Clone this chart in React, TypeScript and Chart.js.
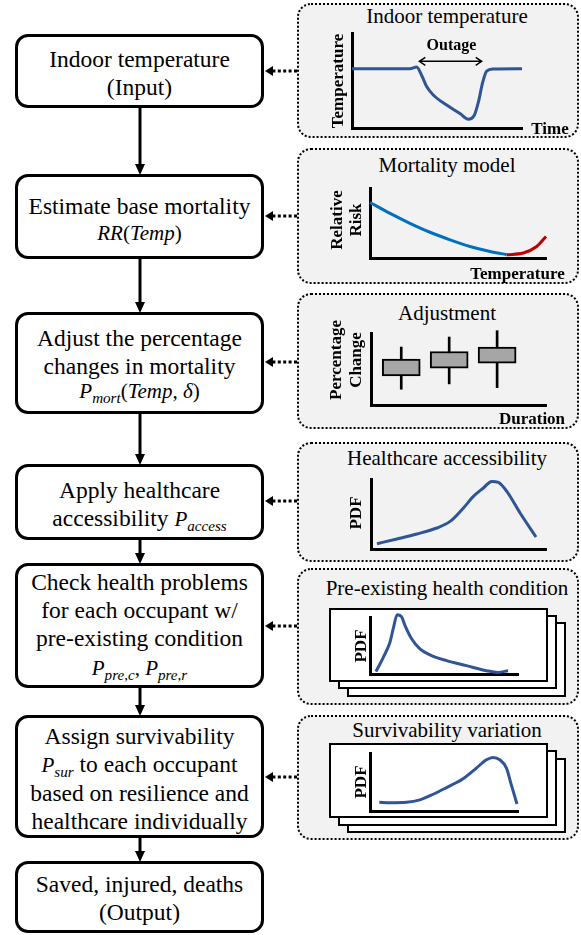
import React, { useEffect, useRef } from "react";
import { Chart, registerables } from "chart.js";
Chart.register(...registerables);

const SERIF = '"Liberation Serif", "Times New Roman", Times, serif';
const DARK_BLUE = "#2f5597";
const COLD_BLUE = "#0070c0";
const HOT_RED = "#c00000";

// ---- Indoor temperature (time 0..100, temperature 0..100)
const tempTime = [0, 34.1, 38, 41, 43.9, 47.8, 55.7, 63.5, 68.4, 71.8, 74.3, 76.9, 79.2, 83.1, 100];
const tempValue = [62.4, 62.4, 64.1, 55.3, 43.6, 34.8, 24.1, 15.2, 9.2, 12.8, 26.9, 48.2, 59.9, 62.0, 62.4];
const outageStart = 39.6;
const outageEnd = 76.3;
const outageMark = 70.2;

// ---- Mortality model
const coldTemp = [0, 11.4, 22.7, 34.1, 45.5, 56.8, 68.2, 77.7];
const coldRisk = [79.3, 63.7, 49.6, 36.8, 25.9, 16.4, 9.4, 4.7];
const hotTemp = [77.7, 87.1, 94.7, 100];
const hotRisk = [4.7, 7.1, 16.4, 30.6];

// ---- Adjustment (box plots per duration)
const durations = [1, 2, 3];
const pctMin = [21.9, 29.3, 24.1];
const pctQ1 = [40.4, 51.2, 58.2];
const pctQ3 = [63.7, 74.3, 80.5];
const pctMax = [80.5, 94.4, 103.2];

// ---- Healthcare accessibility PDF
const accessX = [3.4, 14.8, 26.2, 37.6, 45.2, 52.8, 58.5, 64.2, 69, 72.8, 77.6, 85.2, 94.3];
const accessPdf = [7.6, 14.3, 21.4, 30, 39.4, 58.6, 75.1, 87.1, 96.6, 95.1, 82.3, 51.4, 17.1];

// ---- Pre-existing health condition PDF
const preX = [4.0, 9.0, 13.5, 15.7, 18.4, 21.4, 23.6, 28.1, 33.7, 40.5, 51.7, 65.2, 78.7, 86.5, 93.3];
const prePdf = [4.1, 29.3, 55.8, 79.5, 104, 100, 85.3, 61.8, 44.2, 33.6, 23.5, 14.7, 5.8, 2.8, 5.8];

// ---- Survivability variation PDF
const surX = [6.3, 13.5, 24.7, 33.7, 42.7, 51.7, 62.9, 71.9, 78.7, 83.1, 87.7, 92.2, 95.5, 99.3];
const surPdf = [15.1, 14.4, 15.1, 19.1, 28.9, 40.4, 55.5, 74, 88.4, 92.4, 88.4, 74, 45, 12.1];

const zip = (xs: number[], ys: number[]) => xs.map((x, i) => ({ x, y: ys[i] }));

const axis = (min: number, max: number) => ({
  type: "linear" as const,
  min,
  max,
  offset: false,
  display: true,
  grid: { display: false, drawTicks: false, offset: false },
  ticks: { display: false },
  border: { display: true, color: "#000", width: 3 },
  title: { display: false },
});

const PAD = 10;

const baseOptions = (xMin: number, xMax: number, yMin: number, yMax: number) => ({
  responsive: false,
  maintainAspectRatio: false,
  animation: false as const,
  devicePixelRatio: 1,
  layout: { padding: PAD },
  plugins: { legend: { display: false }, tooltip: { enabled: false } },
  events: [] as any[],
  scales: { x: axis(xMin, xMax), y: axis(yMin, yMax) },
});

const lineDs = (data: any[], color: string) => ({
  data,
  borderColor: color,
  borderWidth: 3,
  pointRadius: 0,
  fill: false,
  cubicInterpolationMode: "monotone" as const,
  clip: false as any,
});

const outagePlugin = {
  id: "outageArrow",
  afterDatasetsDraw(chart: any) {
    const { ctx, scales } = chart;
    const x1 = scales.x.getPixelForValue(outageStart);
    const x2 = scales.x.getPixelForValue(outageEnd);
    const yy = scales.y.getPixelForValue(outageMark);
    ctx.save();
    ctx.strokeStyle = "#000";
    ctx.lineWidth = 1.4;
    ctx.beginPath();
    ctx.moveTo(x1, yy);
    ctx.lineTo(x2, yy);
    ctx.moveTo(x1 + 6, yy - 4);
    ctx.lineTo(x1, yy);
    ctx.lineTo(x1 + 6, yy + 4);
    ctx.moveTo(x2 - 6, yy - 4);
    ctx.lineTo(x2, yy);
    ctx.lineTo(x2 - 6, yy + 4);
    ctx.stroke();
    ctx.restore();
  },
};

const buildTemp = () => ({
  type: "line" as const,
  data: { datasets: [lineDs(zip(tempTime, tempValue), DARK_BLUE)] },
  options: baseOptions(0, 100, 0, 100),
  plugins: [outagePlugin],
});

const buildMort = () => ({
  type: "line" as const,
  data: {
    datasets: [lineDs(zip(hotTemp, hotRisk), HOT_RED), lineDs(zip(coldTemp, coldRisk), COLD_BLUE)],
  },
  options: baseOptions(0, 100, 0, 100),
});

const buildAdj = () => ({
  type: "bar" as const,
  data: {
    datasets: [
      {
        data: durations.map((d, i) => ({ x: d, y: [pctQ1[i], pctQ3[i]] })),
        backgroundColor: "#a6a6a6",
        borderColor: "#000",
        borderWidth: 2,
        borderSkipped: false,
        barThickness: 38,
        grouped: false,
        clip: false as any,
      },
      {
        data: durations.map((d, i) => ({ x: d, y: [pctMin[i], pctMax[i]] })),
        backgroundColor: "#000",
        borderWidth: 0,
        barThickness: 2,
        grouped: false,
        clip: false as any,
      },
    ],
  },
  options: baseOptions(0.369, 4.02, 0, 100),
});

const buildAccess = () => ({
  type: "line" as const,
  data: { datasets: [lineDs(zip(accessX, accessPdf), DARK_BLUE)] },
  options: baseOptions(0, 100, 0, 100),
});

const buildPre = () => ({
  type: "line" as const,
  data: { datasets: [lineDs(zip(preX, prePdf), DARK_BLUE)] },
  options: baseOptions(0, 100, 0, 100),
});

const buildSur = () => ({
  type: "line" as const,
  data: { datasets: [lineDs(zip(surX, surPdf), DARK_BLUE)] },
  options: baseOptions(0, 100, 0, 100),
});

function MiniChart({ x, y, w, h, build }: { x: number; y: number; w: number; h: number; build: () => any }) {
  const ref = useRef<HTMLCanvasElement | null>(null);
  useEffect(() => {
    if (!ref.current) return;
    const chart = new Chart(ref.current, build());
    return () => chart.destroy();
  }, []);
  const cw = Math.round(w + 2 * PAD);
  const ch = Math.round(h + 2 * PAD);
  return (
    <canvas
      ref={ref}
      width={cw}
      height={ch}
      style={{ position: "absolute", left: Math.round(x - PAD), top: Math.round(y - PAD), width: cw, height: ch }}
    />
  );
}

const Box = ({ top, bottom, children }: { top: number; bottom: number; children: React.ReactNode }) => (
  <div
    style={{
      position: "absolute",
      left: 15,
      top,
      width: 249,
      height: bottom - top,
      boxSizing: "border-box",
      border: "3px solid #000",
      borderRadius: 13,
      background: "#fff",
      display: "flex",
      flexDirection: "column",
      justifyContent: "center",
      alignItems: "center",
      textAlign: "center",
      fontFamily: SERIF,
      fontSize: 23.5,
      lineHeight: "28px",
      color: "#000",
    }}
  >
    {children}
  </div>
);

const Panel = ({ top, bottom }: { top: number; bottom: number }) => (
  <div
    style={{
      position: "absolute",
      left: 297,
      top,
      width: 282,
      height: bottom - top,
      boxSizing: "border-box",
      border: "2.5px dotted #000",
      borderRadius: 14,
      background: "#f2f2f2",
    }}
  />
);

const Title = ({ cy, children }: { cy: number; children: React.ReactNode }) => (
  <div
    style={{
      position: "absolute",
      left: 447,
      top: cy - 12,
      transform: "translateX(-50%)",
      whiteSpace: "nowrap",
      fontFamily: SERIF,
      fontSize: 21,
      lineHeight: "24px",
      color: "#000",
    }}
  >
    {children}
  </div>
);

const Label = ({
  cx,
  cy,
  rot,
  size = 17,
  lh = 19,
  children,
}: {
  cx: number;
  cy: number;
  rot?: boolean;
  size?: number;
  lh?: number;
  children: React.ReactNode;
}) => (
  <div
    style={{
      position: "absolute",
      left: cx,
      top: cy,
      transform: `translate(-50%, -50%)${rot ? " rotate(-90deg)" : ""}`,
      whiteSpace: "pre",
      textAlign: "center",
      fontFamily: SERIF,
      fontWeight: "bold",
      fontSize: size,
      lineHeight: `${lh}px`,
      color: "#000",
    }}
  >
    {children}
  </div>
);

const Card = ({ x, y, r, b }: { x: number; y: number; r: number; b: number }) => (
  <div
    style={{
      position: "absolute",
      left: x,
      top: y,
      width: r - x,
      height: b - y,
      boxSizing: "border-box",
      border: "2px solid #000",
      background: "#fff",
    }}
  />
);

const mathStyle: React.CSSProperties = { fontFamily: SERIF, fontStyle: "italic", fontSize: 21 };
const up: React.CSSProperties = { fontStyle: "normal" };
const Sub = ({ children }: { children: React.ReactNode }) => (
  <sub style={{ fontSize: "0.72em", verticalAlign: "-0.35em", lineHeight: 0 }}>{children}</sub>
);

const boxTops = [34, 174, 312, 464, 563, 715, 861];
const boxBottoms = [108, 259, 414, 540, 688, 838, 933];
const linkY = [71, 216, 362, 501, 626, 777];

export default function App() {
  return (
    <div
      style={{
        position: "absolute",
        left: 0,
        top: 0,
        width: 581,
        height: 935,
        background: "#fff",
        overflow: "hidden",
      }}
    >
      {/* Flow boxes */}
      <Box top={boxTops[0]} bottom={boxBottoms[0]}>
        <div style={{ marginTop: 4 }}>Indoor temperature</div>
        <div>(Input)</div>
      </Box>
      <Box top={boxTops[1]} bottom={boxBottoms[1]}>
        <div style={{ marginTop: 4 }}>Estimate base mortality</div>
        <div style={{ ...mathStyle, lineHeight: "26px" }}>
          RR<span style={up}>(</span>Temp<span style={up}>)</span>
        </div>
      </Box>
      <Box top={boxTops[2]} bottom={boxBottoms[2]}>
        <div>Adjust the percentage</div>
        <div>changes in mortality</div>
        <div style={{ ...mathStyle, lineHeight: "22px" }}>
          P<Sub>mort</Sub>
          <span style={up}>(</span>Temp<span style={up}>, </span>δ<span style={up}>)</span>
        </div>
      </Box>
      <Box top={boxTops[3]} bottom={boxBottoms[3]}>
        <div style={{ marginTop: 4 }}>Apply healthcare</div>
        <div>
          accessibility{" "}
          <span style={mathStyle}>
            P<Sub>access</Sub>
          </span>
        </div>
      </Box>
      <Box top={boxTops[4]} bottom={boxBottoms[4]}>
        <div>Check health problems</div>
        <div>for each occupant w/</div>
        <div>pre-existing condition</div>
        <div style={{ ...mathStyle, lineHeight: "32px" }}>
          P<Sub>pre,c</Sub>
          <span style={up}>, </span>P<Sub>pre,r</Sub>
        </div>
      </Box>
      <Box top={boxTops[5]} bottom={boxBottoms[5]}>
        <div style={{ marginTop: 3 }}>Assign survivability</div>
        <div>
          <span style={mathStyle}>
            P<Sub>sur</Sub>
          </span>{" "}
          to each occupant
        </div>
        <div>based on resilience and</div>
        <div>healthcare individually</div>
      </Box>
      <Box top={boxTops[6]} bottom={boxBottoms[6]}>
        <div style={{ marginTop: 2 }}>Saved, injured, deaths</div>
        <div>(Output)</div>
      </Box>

      {/* Side panels */}
      <Panel top={3} bottom={138} />
      <Panel top={148} bottom={284} />
      <Panel top={293} bottom={429} />
      <Panel top={442} bottom={562} />
      <Panel top={568} bottom={705} />
      <Panel top={715} bottom={840} />

      <Title cy={16}>Indoor temperature</Title>
      <Title cy={165}>Mortality model</Title>
      <Title cy={313}>Adjustment</Title>
      <Title cy={458}>Healthcare accessibility</Title>
      <Title cy={588}>Pre-existing health condition</Title>
      <Title cy={730}>Survivability variation</Title>

      {/* stacked cards */}
      <Card x={347} y={622} r={566} b={697} />
      <Card x={338} y={615} r={557} b={689} />
      <Card x={329} y={608} r={548} b={682} />
      <Card x={347} y={758} r={566} b={833} />
      <Card x={338} y={750} r={557} b={826} />
      <Card x={329} y={743} r={548} b={818} />

      {/* Charts */}
      <MiniChart x={352} y={33} w={170} h={94.5} build={buildTemp} />
      <MiniChart x={370} y={188} w={176} h={70.3} build={buildMort} />
      <MiniChart x={371} y={333} w={175} h={72} build={buildAdj} />
      <MiniChart x={371} y={479} w={175} h={70} build={buildAccess} />
      <MiniChart x={370} y={617} w={148} h={56.5} build={buildPre} />
      <MiniChart x={370} y={753} w={148} h={58} build={buildSur} />

      {/* Axis labels */}
      <Label cx={451.5} cy={44} size={16}>Outage</Label>
      <Label cx={550} cy={128}>Time</Label>
      <Label cx={336.5} cy={81} rot>Temperature</Label>

      <Label cx={346} cy={220} rot lh={18.5}>{"Relative\nRisk"}</Label>
      <Label cx={517.5} cy={272.5}>Temperature</Label>

      <Label cx={346} cy={359.5} rot lh={20}>{"Percentage\nChange"}</Label>
      <Label cx={532} cy={418}>Duration</Label>

      <Label cx={355} cy={512.5} rot>PDF</Label>
      <Label cx={360} cy={646} rot>PDF</Label>
      <Label cx={360} cy={782} rot>PDF</Label>

      {/* Arrows */}
      <svg
        width={581}
        height={935}
        style={{ position: "absolute", left: 0, top: 0, pointerEvents: "none" }}
      >
        {boxBottoms.slice(0, 6).map((b, i) => {
          const t = boxTops[i + 1];
          return (
            <g key={"v" + i}>
              <line x1={140} y1={b} x2={140} y2={t - 9} stroke="#000" strokeWidth={3} />
              <polygon points={`135,${t - 10} 145,${t - 10} 140,${t + 1}`} fill="#000" />
            </g>
          );
        })}
        {linkY.map((y, i) => (
          <g key={"h" + i}>
            <line
              x1={297}
              y1={y}
              x2={272}
              y2={y}
              stroke="#000"
              strokeWidth={3}
              strokeDasharray="3 2.4"
            />
            <polygon points={`265,${y} 273,${y - 5} 273,${y + 5}`} fill="#000" />
          </g>
        ))}
      </svg>
    </div>
  );
}
